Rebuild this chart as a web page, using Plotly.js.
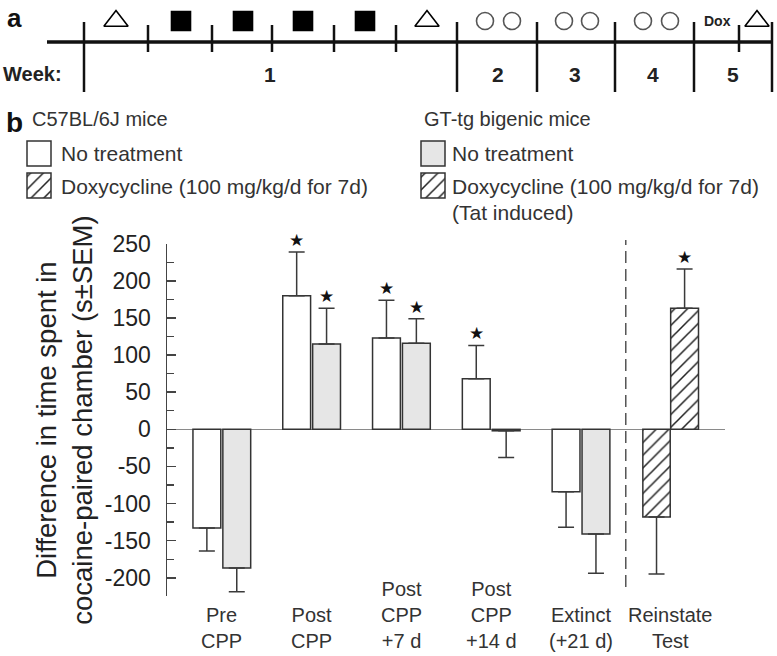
<!DOCTYPE html>
<html><head><meta charset="utf-8">
<script src="https://cdn.plot.ly/plotly-3.0.1.min.js"></script>
<style>html,body{margin:0;padding:0;background:#fff}</style>
</head><body><div id="chart" style="width:777px;height:656px"></div>
<script>
// ---------------- data ----------------
const categories = ['Pre<br>CPP', 'Post<br>CPP', 'Post<br>CPP<br>+7 d', 'Post<br>CPP<br>+14 d', 'Extinct<br>(+21 d)', 'Reinstate<br>Test'];
const c57None    = [-133, 180, 123,  68,  -84, null];
const c57NoneErr = [  31,  59,  51,  45,   48, null];
const c57NoneSig = [false, true, true, true, false, false];
const gtNone     = [-187, 115, 116,  -2, -141, null];
const gtNoneErr  = [  32,  48,  33,  36,   53, null];
const gtNoneSig  = [false, true, true, false, false, false];
const c57Dox     = [null, null, null, null, null, -118];
const c57DoxErr  = [null, null, null, null, null, 77];
const c57DoxSig  = [false, false, false, false, false, false];
const gtDox      = [null, null, null, null, null, 163];
const gtDoxErr   = [null, null, null, null, null, 53];
const gtDoxSig   = [false, false, false, false, false, true];

const yTickVals  = [250, 200, 150, 100, 50, 0, -50, -100, -150, -200];
const yTickText  = ['250', '200', '150', '100', '50', '0', '-50', '-100', '-150', '-200'];

const legendHeaders = ['C57BL/6J mice', 'GT-tg bigenic mice'];
const legendItems   = ['No treatment', 'Doxycycline (100 mg/kg/d for 7d)', 'No treatment', 'Doxycycline (100 mg/kg/d for 7d)'];

// timeline (panel a), in timeline units
const weekLabels       = ['1', '2', '3', '4', '5'];
const weekLabelPos     = [270, 498, 575, 653, 733];
const timelineTicks    = [84, 148, 212, 272, 334, 396, 457, 537, 615, 694, 739, 772];
const timelineLongTick = [true, false, false, false, false, false, true, true, true, true, false, true];
const timelineSymbols  = ['triangle-up-open', 'square', 'square', 'square', 'square', 'triangle-up-open',
                          'circle-open', 'circle-open', 'circle-open', 'circle-open', 'circle-open', 'circle-open',
                          'triangle-up-open'];
const timelineSymPos   = [116, 181, 243, 303, 365, 427, 485, 512, 564, 590, 643, 670, 757];
const doxLabelPos      = 717;

// ---------------- build ----------------
const W = 777, H = 656;
const FONT = 'Arial, "Liberation Sans", sans-serif';
const OUT = '#333';
const WHITE = '#ffffff', GRAY = '#e6e6e6';
const LINE_Y = 42, SYM_Y = 21, WEEK_Y = 74;

function errParts(vals, errs) {
  return {
    plus:  vals.map((v, i) => v == null ? null : (v >= 0 ? errs[i] : 0)),
    minus: vals.map((v, i) => v == null ? null : (v < 0 ? errs[i] : 0))
  };
}
function hatch(on) {
  return on ? {shape: '/', size: 9, solidity: 0.17, fgcolor: '#222', fgopacity: 1} : {shape: ''};
}
function barTrace(name, vals, errs, fill, hatched, offset, width) {
  const e = errParts(vals, errs);
  return {
    type: 'bar', name: name, x: categories, y: vals, offset: offset, width: width,
    xaxis: 'x', yaxis: 'y', showlegend: false, hoverinfo: 'skip',
    marker: {color: fill, line: {color: OUT, width: 1.5}, pattern: hatch(hatched)},
    error_y: {type: 'data', symmetric: false, array: e.plus, arrayminus: e.minus,
              color: '#3a3a3a', thickness: 1.5, width: 8}
  };
}

const series = [
  {name: 'C57BL/6J – No treatment', v: c57None, e: c57NoneErr, s: c57NoneSig, fill: WHITE, h: false, off: -0.32, w: 0.31},
  {name: 'GT-tg – No treatment',    v: gtNone,  e: gtNoneErr,  s: gtNoneSig,  fill: GRAY,  h: false, off: 0.013, w: 0.31},
  {name: 'C57BL/6J – Doxycycline',  v: c57Dox,  e: c57DoxErr,  s: c57DoxSig,  fill: WHITE, h: true,  off: -0.31, w: 0.305},
  {name: 'GT-tg – Doxycycline',     v: gtDox,   e: gtDoxErr,   s: gtDoxSig,   fill: GRAY,  h: true,  off: 0.0,  w: 0.31}
];

const traces = series.map(s => barTrace(s.name, s.v, s.e, s.fill, s.h, s.off, s.w));

// legend key swatches (pixel frame axes x3/y3)
const keyFills = [WHITE, WHITE, GRAY, GRAY];
const keyHatch = [false, true, false, true];
const keyX = [39, 39, 433, 433];
const keyTop = [141, 173, 141, 173];
keyFills.forEach((f, i) => {
  traces.push({type: 'bar', x: [keyX[i]], y: [25], base: [keyTop[i]], width: 24,
    xaxis: 'x3', yaxis: 'y3', showlegend: false, hoverinfo: 'skip',
    marker: {color: f, line: {color: OUT, width: 1.5}, pattern: hatch(keyHatch[i])}});
});

// timeline symbols
traces.push({
  type: 'scatter', mode: 'markers', x: timelineSymPos, y: timelineSymPos.map(() => SYM_Y),
  xaxis: 'x3', yaxis: 'y3', showlegend: false, hoverinfo: 'skip',
  marker: {
    symbol: timelineSymbols,
    size: timelineSymbols.map(s => s.startsWith('circle') ? 17 : (s.startsWith('square') ? 19 : 21)),
    color: timelineSymbols.map(s => s.startsWith('circle') ? '#555' : '#000'),
    opacity: 1,
    line: {width: 1.6, color: timelineSymbols.map(s => s.startsWith('circle') ? '#555' : '#000')}
  }
});

const shapes = [];
// timeline main line
shapes.push({type: 'line', xref: 'x3', yref: 'y3', x0: 47, x1: 773, y0: LINE_Y, y1: LINE_Y, line: {color: '#111', width: 3.5}});
timelineTicks.forEach((t, i) => {
  shapes.push({type: 'line', xref: 'x3', yref: 'y3', x0: t, x1: t,
    y0: timelineLongTick[i] ? 22 : 25, y1: timelineLongTick[i] ? 92 : 52,
    line: {color: '#111', width: 2.5}});
});
// dashed separator between Extinct and Reinstate
shapes.push({type: 'line', xref: 'x', yref: 'paper', x0: 4.5, x1: 4.5,
  y0: (H - 587) / H, y1: (H - 240) / H, line: {color: '#555', width: 1.5, dash: '12px,6px'}});

const annotations = [];
// x category labels (bottom aligned)
categories.forEach((c, i) => {
  annotations.push({xref: 'x', yref: 'paper', x: i, y: (H - 654) / H, yanchor: 'bottom', xanchor: 'center',
    text: c, showarrow: false, font: {size: 20, color: '#333', family: FONT}});
});
// significance stars
series.forEach(s => {
  s.s.forEach((sig, i) => {
    if (!sig) return;
    annotations.push({xref: 'x', yref: 'y', x: i + s.off + s.w / 2, y: s.v[i] + s.e[i],
      yanchor: 'bottom', xanchor: 'center', yshift: 0, text: '★', showarrow: false,
      font: {size: 17, color: '#111', family: '"DejaVu Sans", sans-serif'}});
  });
});
// panel letters
annotations.push({xref: 'x3', yref: 'y3', x: 5, y: 18, xanchor: 'left', yanchor: 'middle', text: '<b>a</b>',
  showarrow: false, font: {size: 26, color: '#111', family: FONT}});
annotations.push({xref: 'x3', yref: 'y3', x: 4, y: 122, xanchor: 'left', yanchor: 'middle', text: '<b>b</b>',
  showarrow: false, font: {size: 28, color: '#111', family: FONT}});
// week row
annotations.push({xref: 'x3', yref: 'y3', x: 1, y: WEEK_Y, xanchor: 'left', yanchor: 'middle', text: '<b>Week:</b>',
  showarrow: false, font: {size: 20, color: '#222', family: FONT}});
weekLabels.forEach((w, i) => {
  annotations.push({xref: 'x3', yref: 'y3', x: weekLabelPos[i], y: WEEK_Y, xanchor: 'center', yanchor: 'middle',
    text: '<b>' + w + '</b>', showarrow: false, font: {size: 21, color: '#222', family: FONT}});
});
annotations.push({xref: 'x3', yref: 'y3', x: doxLabelPos, y: SYM_Y, xanchor: 'center', yanchor: 'middle',
  text: '<b>Dox</b>', showarrow: false, font: {size: 14, color: '#222', family: FONT}});
// legend texts
const legX = [30, 422];
legendHeaders.forEach((t, i) => {
  annotations.push({xref: 'x3', yref: 'y3', x: legX[i], y: 119, xanchor: 'left', yanchor: 'middle', text: t,
    showarrow: false, font: {size: 20, color: '#333', family: FONT}});
});
const itemX = [59, 59, 450, 450], itemY = [153, 186, 153, 186];
legendItems.forEach((t, i) => {
  annotations.push({xref: 'x3', yref: 'y3', x: itemX[i], y: itemY[i], xanchor: 'left', yanchor: 'middle', text: t,
    showarrow: false, font: {size: 21, color: '#333', family: FONT}});
});
annotations.push({xref: 'x3', yref: 'y3', x: 450, y: 212, xanchor: 'left', yanchor: 'middle', text: '(Tat induced)',
  showarrow: false, font: {size: 21, color: '#333', family: FONT}});

const layout = {
  width: W, height: H, margin: {l: 0, r: 0, t: 0, b: 0},
  paper_bgcolor: '#fff', plot_bgcolor: 'rgba(0,0,0,0)',
  barmode: 'overlay', showlegend: false,
  font: {family: FONT, color: '#222'},
  xaxis: {type: 'category', categoryorder: 'array', categoryarray: categories,
    domain: [167 / W, 725 / W], range: [-0.609, 5.605], anchor: 'y',
    showticklabels: false, ticks: '', showline: false, showgrid: false, zeroline: false, fixedrange: true},
  yaxis: {domain: [(H - 596.3) / H, (H - 243.8) / H], range: [-225, 250], anchor: 'x',
    tickvals: yTickVals, ticktext: yTickText, ticks: 'inside', ticklen: 9, tickwidth: 1.5, tickcolor: '#444',
    minor: {ticks: 'inside', dtick: 25, tick0: 0, ticklen: 7, tickwidth: 1.3, tickcolor: '#444'},
    showline: true, linecolor: '#444', linewidth: 1.5, showgrid: false,
    zeroline: true, zerolinecolor: '#8a8a8a', zerolinewidth: 1.5,
    tickfont: {size: 23, color: '#222', family: FONT}, ticklabelstandoff: 10,
    title: {text: 'Difference in time spent in<br>cocaine-paired chamber (s±SEM)', standoff: 4,
      font: {size: 27.5, color: '#222', family: FONT}},
    automargin: false, fixedrange: true},
  xaxis3: {domain: [0, 1], range: [0, W], visible: false, anchor: 'y3', fixedrange: true},
  yaxis3: {domain: [0, 1], range: [H, 0], visible: false, anchor: 'x3', fixedrange: true},
  shapes: shapes, annotations: annotations
};

Plotly.newPlot('chart', traces, layout, {displayModeBar: false, staticPlot: true});
</script></body></html>
